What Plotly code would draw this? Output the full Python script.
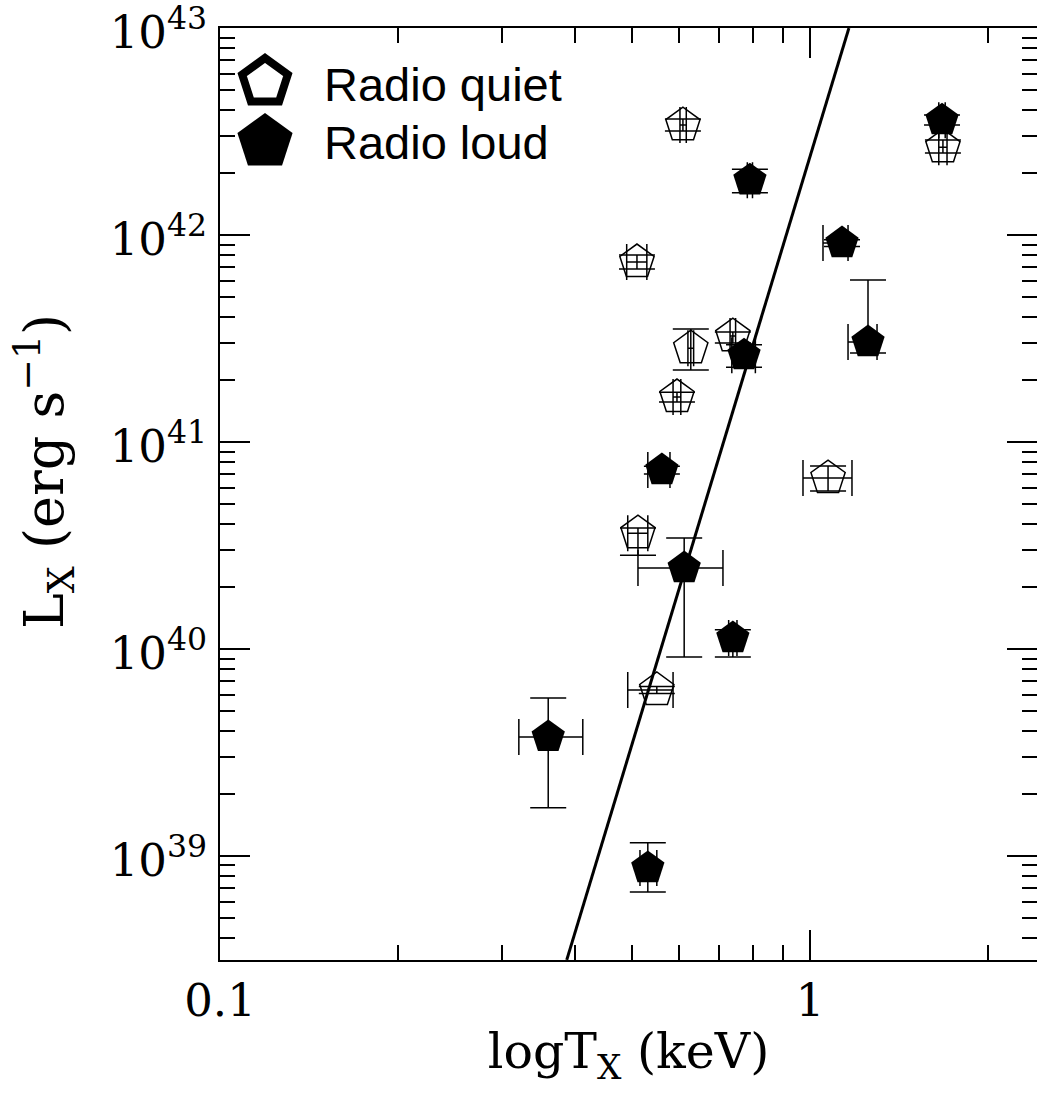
import plotly.graph_objects as go
import math

# ---------------- data ----------------
# Radio quiet (open pentagons)
rq_T    = [0.609, 0.509, 0.628, 0.740, 0.595, 1.073, 0.511, 0.550, 1.680]
rq_T_lo = [0.602, 0.489, 0.621, 0.732, 0.586, 0.973, 0.491, 0.491, 1.653]
rq_T_hi = [0.617, 0.529, 0.635, 0.748, 0.604, 1.178, 0.531, 0.586, 1.707]
rq_L    = [3.40e42, 7.41e41, 2.84e41, 3.25e41, 1.65e41, 6.70e40, 3.63e40, 6.34e39, 2.66e42]
rq_L_lo = [3.18e42, 6.86e41, 2.23e41, 3.01e41, 1.56e41, 5.80e40, 2.84e40, 6.10e39, 2.49e42]
rq_L_hi = [3.64e42, 8.01e41, 3.52e41, 3.40e41, 1.74e41, 7.66e40, 3.84e40, 6.60e39, 2.88e42]

# Radio loud (filled pentagons)
rl_T    = [0.791, 1.674, 1.133, 0.773, 1.254, 0.561, 0.612, 0.740, 0.360, 0.531]
rl_T_lo = [0.783, 1.653, 1.052, 0.737, 1.160, 0.531, 0.511, 0.728, 0.321, 0.515]
rl_T_hi = [0.799, 1.695, 1.160, 0.808, 1.299, 0.579, 0.712, 0.752, 0.412, 0.550]
rl_L    = [1.84e42, 3.59e42, 9.15e41, 2.63e41, 3.04e41, 7.32e40, 2.46e40, 1.13e40, 3.76e39, 8.75e38]
rl_L_lo = [1.60e42, 3.40e42, 8.80e41, 2.30e41, 2.69e41, 7.00e40, 9.15e39, 9.15e39, 1.71e39, 6.70e38]
rl_L_hi = [2.08e42, 3.80e42, 9.50e41, 2.95e41, 6.06e41, 7.65e40, 3.44e40, 1.24e40, 5.80e39, 1.16e39]

# Fitted relation (straight line in log-log space)
fit_T = [0.387, 1.164]
fit_L = [3.15e38, 1.0e43]

# Tick labels
x_ticks = [0.1, 1]
x_ticktext = ["0.1", "1"]
y_ticks = [1e39, 1e40, 1e41, 1e42, 1e43]
y_ticktext = ["10<sup>39</sup>", "10<sup>40</sup>", "10<sup>41</sup>", "10<sup>42</sup>", "10<sup>43</sup>"]
legend_labels = ["Radio quiet", "Radio loud"]
x_title = "logT<sub>X</sub> (keV)"
y_title = "L<sub>X</sub> (erg s<sup>−1</sup>)"

# ---------------- layout geometry ----------------
W, H = 1037, 1093
ML, MR, MT, MB = 220, 0, 28, 133
PW, PH = W - ML - MR, H - MT - MB
DEC_X = 590.0   # px per decade in x
x_range = [-1.0, -1.0 + PW / DEC_X]
y_range = [43.0 - PH / 207.0, 43.0005]

SERIF = "DejaVu Serif"
SANS = "Liberation Sans, Arial, Helvetica, sans-serif"

def minus(v, lo):
    return [a - b for a, b in zip(v, lo)]

def plus(v, hi):
    return [b - a for a, b in zip(v, hi)]

fig = go.Figure()

fig.add_trace(go.Scatter(
    x=fit_T, y=fit_L, mode="lines",
    line=dict(color="black", width=3), showlegend=False, hoverinfo="skip"))

err_style = dict(type="data", color="black", thickness=1.5, width=18, symmetric=False)

fig.add_trace(go.Scatter(
    x=rq_T, y=rq_L, mode="markers", name=legend_labels[0], showlegend=False,
    marker=dict(symbol="pentagon-open", size=36, color="black", line=dict(width=1.5, color="black")),
    error_x=dict(array=plus(rq_T, rq_T_hi), arrayminus=minus(rq_T, rq_T_lo), **err_style),
    error_y=dict(array=plus(rq_L, rq_L_hi), arrayminus=minus(rq_L, rq_L_lo), **err_style),
))

fig.add_trace(go.Scatter(
    x=rl_T, y=rl_L, mode="markers", name=legend_labels[1], showlegend=False,
    marker=dict(symbol="pentagon", size=35, color="black", line=dict(width=0)),
    error_x=dict(array=plus(rl_T, rl_T_hi), arrayminus=minus(rl_T, rl_T_lo), **err_style),
    error_y=dict(array=plus(rl_L, rl_L_hi), arrayminus=minus(rl_L, rl_L_lo), **err_style),
))

# ---------------- manual legend (large symbols) ----------------
def px_to_paper(px, py):
    return (px - ML) / PW, (MT + PH - py) / PH

def pentagon_path(cx, cy, r):
    pts = []
    for k in range(5):
        a = math.radians(90 - 72 * k)
        pts.append(px_to_paper(cx + r * math.cos(a), cy - r * math.sin(a)))
    return "M " + " L ".join(f"{x:.5f},{y:.5f}" for x, y in pts) + " Z"

shapes = [
    dict(type="path", xref="paper", yref="paper", path=pentagon_path(265, 82, 24),
         line=dict(color="black", width=8), fillcolor="rgba(0,0,0,0)"),
    dict(type="path", xref="paper", yref="paper", path=pentagon_path(265, 142, 29),
         line=dict(color="black", width=0), fillcolor="black"),
]
annotations = []
for label, cy in zip(legend_labels, [84, 142]):
    px, py = px_to_paper(322, cy)
    annotations.append(dict(x=px, y=py, xref="paper", yref="paper", text=label,
                            showarrow=False, xanchor="left", yanchor="middle",
                            font=dict(family=SANS, size=47, color="black")))

# y-axis title placed as a rotated annotation (centred like the reference)
tx, ty = px_to_paper(44, 472)
annotations.append(dict(x=tx, y=ty, xref="paper", yref="paper", text=y_title,
                        showarrow=False, textangle=-90, xanchor="center", yanchor="middle",
                        font=dict(family=SERIF, size=54, color="black")))

axis_common = dict(
    type="log", showgrid=False, zeroline=False, showline=True, linecolor="black",
    linewidth=2, mirror="allticks", ticks="inside", ticklen=30, tickwidth=2,
    tickcolor="black", tickfont=dict(family=SERIF, size=45, color="black"),
    ticklabeloverflow="allow",
)

x_minor = [k * 0.1 for k in range(2, 10)] + [2.0]
y_minor = [k * 10.0 ** n for n in range(38, 43) for k in range(2, 10)]

fig.update_layout(
    width=W, height=H, margin=dict(l=ML, r=MR, t=MT, b=MB, autoexpand=False),
    paper_bgcolor="white", plot_bgcolor="white",
    shapes=shapes, annotations=annotations,
    xaxis=dict(**axis_common, range=x_range, tickvals=x_ticks, ticktext=x_ticktext,
               ticklabelstandoff=0,
               minor=dict(ticks="inside", ticklen=15, tickwidth=2, tickcolor="black", tickvals=x_minor),
               title=dict(text=x_title, standoff=8,
                          font=dict(family=SERIF, size=49, color="black"))),
    yaxis=dict(**axis_common, range=y_range, tickvals=y_ticks, ticktext=y_ticktext,
               ticklabelstandoff=2, ticklabelshift=4,
               minor=dict(ticks="inside", ticklen=15, tickwidth=2, tickcolor="black", tickvals=y_minor)),
    showlegend=False,
)

# remove the browser's default page margin so the figure fills the window exactly
fig.write_html("out.html", config={"displayModeBar": False},
               post_script="document.body.style.margin='0';document.body.style.overflow='hidden';")
